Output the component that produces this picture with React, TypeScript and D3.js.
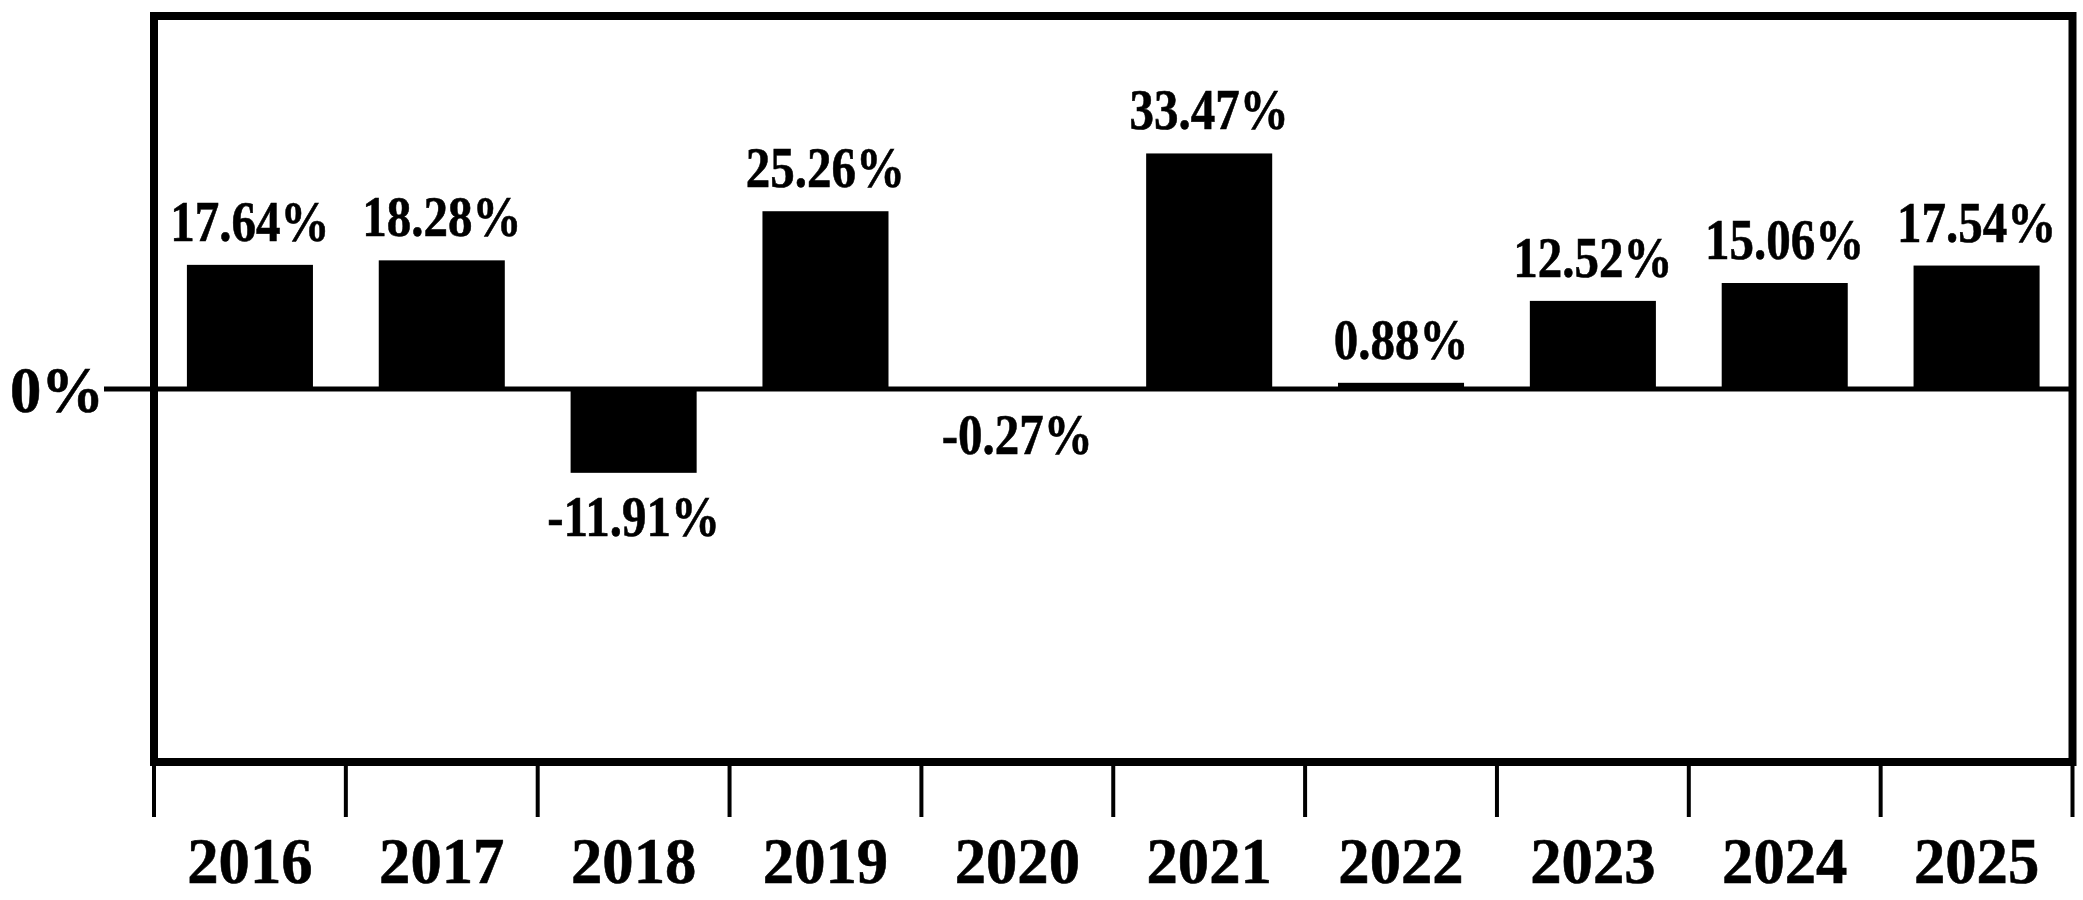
import React from "react";
import * as d3 from "d3";

const years = ["2016", "2017", "2018", "2019", "2020", "2021", "2022", "2023", "2024", "2025"];
const returns = [17.64, 18.28, -11.91, 25.26, -0.27, 33.47, 0.88, 12.52, 15.06, 17.54];
const valueLabels = ["17.64%", "18.28%", "-11.91%", "25.26%", "-0.27%", "33.47%", "0.88%", "12.52%", "15.06%", "17.54%"];
const zeroLabel = "0%";

const W = 2083;
const H = 900;
const FONT = "'Liberation Serif', 'Times New Roman', serif";

export default function App() {
  const left = 154;
  const right = 2072.5;
  const top = 16;
  const bottom = 762;

  const x = d3
    .scaleBand<string>()
    .domain(years)
    .range([left, right])
    .paddingInner(0.343)
    .paddingOuter(0.1715);
  const y = d3.scaleLinear().domain([-53, 53]).range([bottom, top]);
  const step = x.step();
  const y0 = y(0);

  const boundaries = d3.range(years.length + 1).map((i) => left + i * step);

  return (
    <svg
      width={W}
      height={H}
      viewBox={`0 0 ${W} ${H}`}
      style={{ position: "absolute", left: 0, top: 0, background: "#fff" }}
    >
      <rect x={0} y={0} width={W} height={H} fill="#fff" />
      {years.map((yr, i) => {
        const v = returns[i];
        const yTop = Math.min(y(v), y0);
        const h = Math.abs(y(v) - y0);
        return <rect key={yr} x={x(yr)} y={yTop} width={x.bandwidth()} height={h} fill="#000" />;
      })}
      <line x1={104} x2={right} y1={y0} y2={y0} stroke="#000" strokeWidth={5} />
      <rect
        x={left}
        y={top}
        width={right - left}
        height={bottom - top}
        fill="none"
        stroke="#000"
        strokeWidth={8}
      />
      {boundaries.map((bx, i) => (
        <line key={i} x1={bx} x2={bx} y1={bottom} y2={817} stroke="#000" strokeWidth={4} />
      ))}
      {years.map((yr, i) => {
        const v = returns[i];
        const cx = (x(yr) as number) + x.bandwidth() / 2;
        const ty = v >= 0 ? y(v) - 24 : y(v) + 25 + 38;
        return (
          <g key={yr} transform={`translate(${cx},${ty}) scale(0.86,1)`}>
            <text
              x={0}
              y={0}
              textAnchor="middle"
              fontFamily={FONT}
              fontWeight="bold"
              fontSize={57}
              fill="#000"
              stroke="#000"
              strokeWidth={0.6}
            >
              {valueLabels[i]}
            </text>
          </g>
        );
      })}
      {years.map((yr) => {
        const cx = (x(yr) as number) + x.bandwidth() / 2;
        return (
          <g key={yr} transform={`translate(${cx},883) scale(0.95,1)`}>
            <text
              x={0}
              y={0}
              textAnchor="middle"
              fontFamily={FONT}
              fontWeight="bold"
              fontSize={66}
              fill="#000"
              stroke="#000"
              strokeWidth={0.6}
            >
              {yr}
            </text>
          </g>
        );
      })}
      <g transform={`translate(104,412) scale(0.95,1)`}>
        <text
          x={0}
          y={0}
          textAnchor="end"
          fontFamily={FONT}
          fontWeight="bold"
          fontSize={66}
          fill="#000"
          stroke="#000"
          strokeWidth={0.6}
        >
          {zeroLabel}
        </text>
      </g>
    </svg>
  );
}
